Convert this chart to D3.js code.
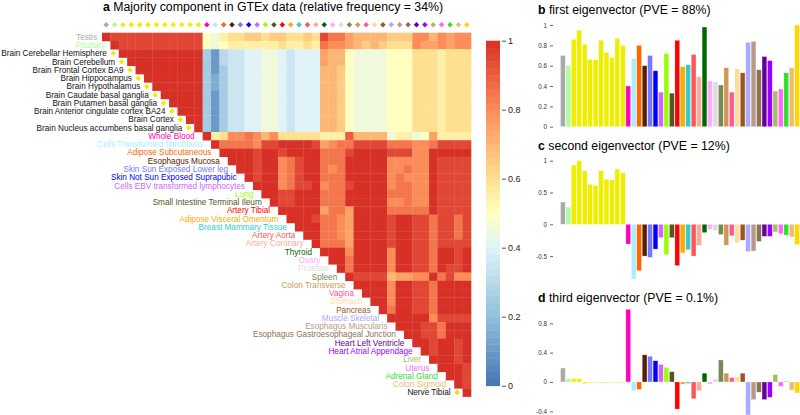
<!DOCTYPE html>
<html>
<head>
<meta charset="utf-8">
<script src="https://cdn.jsdelivr.net/npm/d3@7"></script>
<style>
    body { margin: 0; background: #fff; }
    svg { font-family: "Liberation Sans", Arial, sans-serif; }
</style>
</head>
<body>
<script>
var tissues = ['Testis', 'Pituitary', 'Brain Cerebellar Hemisphere', 'Brain Cerebellum',
    'Brain Frontal Cortex BA9', 'Brain Hippocampus', 'Brain Hypothalamus', 'Brain Caudate basal ganglia',
    'Brain Putamen basal ganglia', 'Brain Anterior cingulate cortex BA24', 'Brain Cortex',
    'Brain Nucleus accumbens basal ganglia', 'Whole Blood', 'Cells Transformed fibroblasts',
    'Adipose Subcutaneous', 'Esophagus Mucosa', 'Skin Sun Exposed Lower leg',
    'Skin Not Sun Exposed Suprapubic', 'Cells EBV transformed lymphocytes', 'Lung',
    'Small Intestine Terminal Ileum', 'Artery Tibial', 'Adipose Visceral Omentum',
    'Breast Mammary Tissue', 'Artery Aorta', 'Artery Coronary', 'Thyroid', 'Ovary', 'Prostate',
    'Spleen', 'Colon Transverse', 'Vagina', 'Stomach', 'Pancreas', 'Muscle Skeletal',
    'Esophagus Muscularis', 'Esophagus Gastroesophageal Junction', 'Heart Left Ventricle',
    'Heart Atrial Appendage', 'Liver', 'Uterus', 'Adrenal Gland', 'Colon Sigmoid', 'Nerve Tibial'];

var tissueColors = ['#aaaaaa', '#aaff99', '#eeee00', '#eeee00', '#eeee00', '#eeee00', '#eeee00',
    '#eeee00', '#eeee00', '#eeee00', '#eeee00', '#eeee00', '#ff00bb', '#aaeeff', '#ff6600',
    '#552200', '#7777ff', '#0000ff', '#cc66ff', '#99ff00', '#555522', '#ff0000', '#ffaa00',
    '#33cccc', '#ff5555', '#ffaa99', '#006600', '#ffaaff', '#dddddd', '#778855', '#cc9955',
    '#ff5599', '#ffdd99', '#995522', '#aaaaff', '#bb9988', '#8b7355', '#660099', '#9900ff',
    '#aabb66', '#ff66ff', '#33dd33', '#eebb77', '#ffd700'];

// labels drawn in black with a diamond beside them
var markedTissues = tissues.slice(2, 12).concat(['Nerve Tibial']);

// upper triangle, row r starts at column r; letter a..u = 0..1 in steps of 0.05
var heatRows = [
    'u' + 'ttttttttttt' + 'kjlmmnnmnn' + 'mmnmtrrpoooonnnqqoqpqq',
    'u' + 'tttttttttt' + 'kjkllllllm' + 'llmlrqqpononmmmqppqpqq',
    'uuuuuuuuuu' + 'fcghhiijji' + 'hiiipookjjjjkkkmmmlmmm',
    'uuuuuuuuu' + 'fcghhiijji' + 'hiiipookjjjjkkkmmmlmmm',
    'uuuuuuuu' + 'fcfhhiijji' + 'hiiioonkjjjjkkkmmmlmmm',
    'uuuuuuu' + 'fdfhhiijji' + 'hiiioonkjjjjkkkmmmlmmm',
    'uuuuuu' + 'fdfhhiijji' + 'hiiioonkjjjjkkkmmmlmmm',
    'uuuuu' + 'fcfhhiijji' + 'hiiioonkjjjjkkkmmmlmmm',
    'uuuu' + 'fcfhhiijji' + 'hiiioonkjjjjkkkmmmlmmm',
    'uuu' + 'fcfhhiijji' + 'hiiioonkjjjjkkkmmmlmmm',
    'uu' + 'fcfhhiijji' + 'hiiioonkjjjjkkkmmmlmmm',
    'u' + 'fcfhhiijji' + 'hiiioonkjjjjkkkmmmlmmm',
    'ulmqqrqoqm' + 'mmmmlllsoooojlljkpllll',
    'urrrrqttu' + 'uuutpqrrttttrrrqqrtttt',
    'uuuutuut' + 'uuuurrrtuuuutttqquuuuu',
    'uuutuuq' + 'rtuurrruuuuuqqqqqutttt',
    'uutuuq' + 'rtuurqruuuuuqqrqqutttt',
    'utuuq' + 'rtuurrruuuuuqrqqqutttt',
    'uuuq' + 'rttuqrrtuuuuqrrqqutttt',
    'uut' + 'tuuurrruuuuurrrqqutttt',
    'ut' + 'tuuurrruuuuuqqrqqutttt',
    'u' + 'uuuuprrpuuuurrrrrutttt',
    'uuutrrqpuuuutuuttrttrt',
    'uuurrqpuuuutuuttrttrt',
    'uurrqpuuuutuuttrttrt',
    'urrrpuuuutuuttrtttt',
    'uuuquuuuquuttruutu',
    'uuruuuuquuttruutu',
    'uruuuuquuttruttu',
    'uttttoppqqurtqq',
    'uuuuquuttruuuu',
    'uuuquuttruuuu',
    'uuquuttruuuu',
    'uruuttruuuu',
    'uuuuuqtttt',
    'uuuttruuu',
    'uuttruuu',
    'uutuutu',
    'utuutu',
    'uuutu',
    'uuut',
    'uut',
    'ut',
    'u'
];

var colorStops = [0, 0.2, 0.4, 0.5, 0.6, 0.8, 1];
var colorRange = ['#4575b4', '#91bfdb', '#e0f3f8', '#ffffbf', '#fee090', '#fc8d59', '#d73027'];
var colorTicks = [0, 0.2, 0.4, 0.6, 0.8, 1];

var eigen1 = [0.70, 0.60, 0.86, 0.95, 0.81, 0.66, 0.66, 0.85, 0.73, 0.68, 0.87, 0.80,
    0.40, 0.67, 0.80, 0.60, 0.70, 0.55, 0.34, 0.72, 0.33, 0.85, 0.59, 0.61, 0.71, 0.49,
    0.98, 0.45, 0.44, 0.41, 0.58, 0.34, 0.57, 0.53, 0.83, 0.84, 0.56, 0.69, 0.65, 0.35,
    0.37, 0.53, 0.58, 1.00];
var eigen2 = [0.35, 0.27, 0.93, 1.00, 0.84, 0.63, 0.61, 0.84, 0.71, 0.70, 0.87, 0.81,
    -0.31, -0.86, -0.73, -0.50, -0.52, -0.39, -0.21, -0.48, -0.21, -0.65, -0.45, -0.40,
    -0.50, -0.33, -0.13, -0.08, -0.10, -0.16, -0.33, -0.18, -0.29, -0.25, -0.43, -0.42,
    -0.27, -0.19, -0.19, -0.12, -0.15, -0.17, -0.20, -0.32];
var eigen3 = [0.19, 0.045, 0.045, 0.045, -0.02, -0.01, -0.01, -0.01, -0.01, -0.01, -0.01, -0.01,
    0.99, -0.12, -0.10, 0.37, 0.35, 0.29, 0.24, 0.20, 0.14, -0.37, -0.03, -0.02, -0.23,
    -0.12, 0.12, -0.03, 0.04, 0.30, 0.12, 0.06, 0.07, 0.12, -0.45, -0.24, -0.14, -0.24,
    -0.21, 0.10, -0.06, 0.01, -0.11, -0.15];

var eigenLetters = ['b', 'c', 'd'];
var eigenTitles = ['first eigenvector (PVE = 88%)', 'second eigenvector (PVE = 12%)',
    'third eigenvector (PVE = 0.1%)'];
var eigenTicks = [[0, 0.2, 0.4, 0.6, 0.8, 1], [-0.5, 0, 0.5, 1], [-0.4, 0, 0.4, 0.8]];

var width = 800, height = 415;

var svg = d3.select('body').append('svg')
    .attr('width', width)
    .attr('height', height);

var color = d3.scaleLinear().domain(colorStops).range(colorRange).clamp(true);

function decode(ch) {
    return (ch.charCodeAt(0) - 97) / 20;
}

function diamond(sel, x, y, fill) {
    sel.append('path')
        .attr('d', d3.symbol(d3.symbolSquare, 15)())
        .attr('transform', 'translate(' + x + ',' + y + ') rotate(45)')
        .attr('fill', fill);
}

function drawHeatmap() {
    var n = tissues.length;
    var x = d3.scaleBand().domain(d3.range(n)).range([102, 471]);
    var y = d3.scaleBand().domain(d3.range(n)).range([32.7, 396.6]);

    svg.append('text')
        .attr('x', 103)
        .attr('y', 11)
        .attr('font-size', 12.3)
        .call(function (t) {
            t.append('tspan').attr('font-weight', 'bold').text('a');
            t.append('tspan').text(' Majority component in GTEx data (relative frequency = 34%)');
        });

    var cells = [];
    heatRows.forEach(function (row, r) {
        row.slice(0, n - r).split('').forEach(function (ch, j) {
            cells.push({row: r, col: r + j, value: decode(ch)});
        });
    });

    svg.append('g').selectAll('rect')
        .data(cells)
        .enter().append('rect')
        .attr('x', function (d) { return x(d.col); })
        .attr('y', function (d) { return y(d.row); })
        .attr('width', x.bandwidth() + 0.3)
        .attr('height', y.bandwidth() + 0.3)
        .attr('fill', function (d) { return color(d.value); });

    //top diamonds
    var top = svg.append('g');
    tissues.forEach(function (t, i) {
        diamond(top, x(i) + x.bandwidth() / 2, 24.7, tissueColors[i]);
    });

    //row labels along the diagonal
    var labels = svg.append('g').attr('font-size', 8.2);
    tissues.forEach(function (t, i) {
        var marked = markedTissues.indexOf(t) >= 0;
        var cy = y(i) + y.bandwidth() / 2;
        var gap = marked ? 12 : (i < 2 ? 5 : 8);
        if (marked) {
            diamond(labels, x(i) - 5.5, cy, tissueColors[i]);
        }
        labels.append('text')
            .attr('x', x(i) - gap)
            .attr('y', cy)
            .attr('dy', '0.35em')
            .attr('text-anchor', 'end')
            .attr('fill', marked ? '#111' : tissueColors[i])
            .text(t);
    });

    //colour bar
    var cbY = d3.scaleLinear().domain([0, 1]).range([385.7, 40.7]);
    var steps = d3.range(0, 1, 0.02);
    svg.append('g').selectAll('rect')
        .data(steps)
        .enter().append('rect')
        .attr('x', 486)
        .attr('y', function (d) { return cbY(d + 0.02); })
        .attr('width', 14)
        .attr('height', function (d) { return cbY(d) - cbY(d + 0.02) + 0.4; })
        .attr('fill', function (d) { return color(d + 0.01); });

    var cbAxis = svg.append('g')
        .attr('transform', 'translate(502,0)')
        .call(d3.axisRight(cbY).tickValues(colorTicks).tickSize(4).tickPadding(2).tickFormat(String));
    cbAxis.select('.domain').remove();
    cbAxis.selectAll('text').attr('font-size', 9).attr('fill', '#222').attr('font-family', null);
    cbAxis.selectAll('line').attr('stroke', '#555');
}

function drawEigen(values, k, yDomain, yRange, titleY) {
    var x = d3.scaleBand().domain(d3.range(values.length)).range([560.5, 799.5]).paddingInner(0.12);
    var y = d3.scaleLinear().domain(yDomain).range(yRange);

    svg.append('text')
        .attr('x', 538)
        .attr('y', titleY)
        .attr('font-size', 12.3)
        .call(function (t) {
            t.append('tspan').attr('font-weight', 'bold').text(eigenLetters[k]);
            t.append('tspan').text(' ' + eigenTitles[k]);
        });

    svg.append('g').selectAll('rect')
        .data(values)
        .enter().append('rect')
        .attr('x', function (d, i) { return x(i); })
        .attr('y', function (d) { return Math.min(y(d), y(0)); })
        .attr('width', x.bandwidth())
        .attr('height', function (d) { return Math.abs(y(d) - y(0)); })
        .attr('fill', function (d, i) { return tissueColors[i]; })
        .attr('stroke', '#fff')
        .attr('stroke-opacity', 0.6)
        .attr('stroke-width', 0.5);

    var axis = svg.append('g')
        .attr('transform', 'translate(553,0)')
        .call(d3.axisLeft(y).tickValues(eigenTicks[k]).tickSize(3).tickPadding(3).tickFormat(String));
    axis.select('.domain').remove();
    axis.selectAll('text').attr('font-size', 6.3).attr('fill', '#333').attr('font-family', null);
    axis.selectAll('line').attr('stroke', '#666');
}

drawHeatmap();
drawEigen(eigen1, 0, [0, 1], [126.7, 25], 13.5);
drawEigen(eigen2, 1, [-0.5, 1], [256.1, 160.7], 150);
drawEigen(eigen3, 2, [-0.4, 0.8], [411.3, 323.3], 301.5);
</script>
</body>
</html>
